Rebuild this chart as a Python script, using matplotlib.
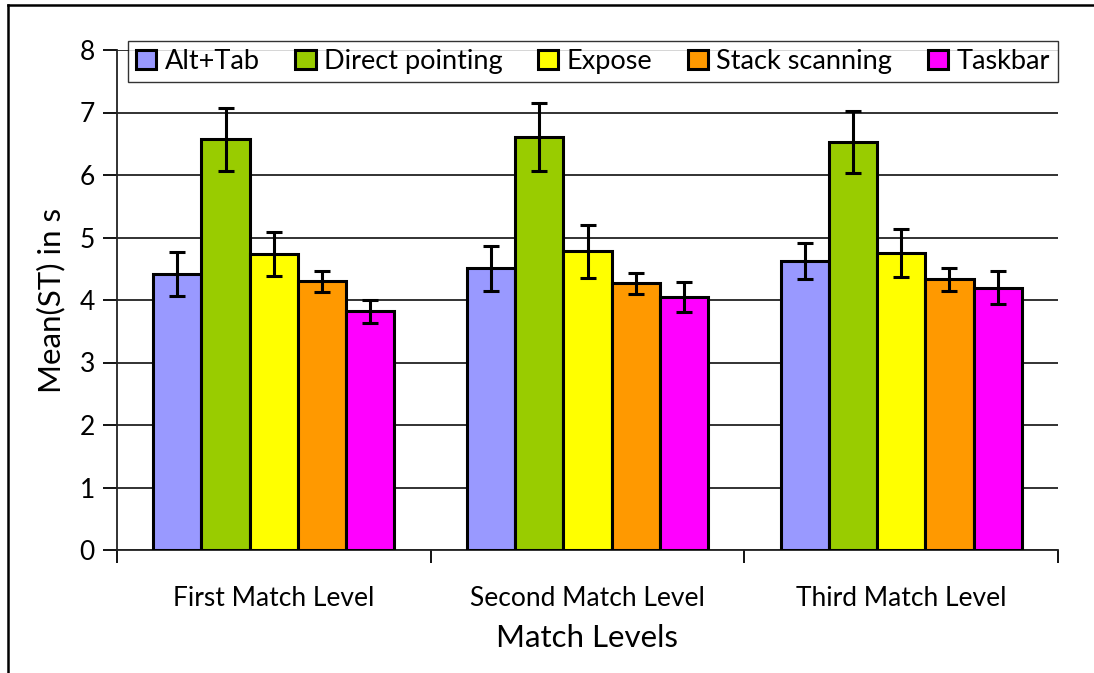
import numpy as np
import matplotlib
matplotlib.use("Agg")
import matplotlib.pyplot as plt
from matplotlib.lines import Line2D

plt.rcParams['font.family'] = ['Lato', 'DejaVu Sans']

# data
levels = ["First Match Level", "Second Match Level", "Third Match Level"]
techniques = ["Alt+Tab", "Direct pointing", "Expose", "Stack scanning", "Taskbar"]
colors = ["#9999FF", "#99CC00", "#FFFF00", "#FF9900", "#FF00FF"]

alt_tab = [4.42, 4.51, 4.63]
direct = [6.57, 6.61, 6.53]
expose = [4.74, 4.78, 4.75]
stack = [4.30, 4.27, 4.33]
taskbar = [3.82, 4.05, 4.20]

alt_tab_err = [0.35, 0.36, 0.29]
direct_err = [0.51, 0.55, 0.49]
expose_err = [0.35, 0.42, 0.38]
stack_err = [0.17, 0.17, 0.18]
taskbar_err = [0.18, 0.24, 0.26]

means = [alt_tab, direct, expose, stack, taskbar]
errs = [alt_tab_err, direct_err, expose_err, stack_err, taskbar_err]

fig = plt.figure(figsize=(10.94, 6.73), dpi=100)
ax = fig.add_axes([117/1094, 1-550/673, (1058-117)/1094, 500/673])

# Excel-style clustered bars: gap width 150%
n = len(techniques)
width = 1.0 / (n + 1.5)
x = np.arange(len(levels))
for i in range(n):
    pos = x + (i - (n - 1) / 2) * width
    ax.bar(pos, means[i], width, color=colors[i], edgecolor="black",
           linewidth=2.2, label=techniques[i], zorder=3)
    ax.errorbar(pos, means[i], yerr=errs[i], fmt="none", ecolor="black",
                elinewidth=2.2, capsize=5.5, capthick=2.2, zorder=4)

ax.set_xlim(-0.5, len(levels) - 0.5)
ax.set_ylim(0, 8)
ax.set_yticks(range(0, 9))
ax.yaxis.grid(True, color="#222222", linewidth=1.3, zorder=0)
ax.set_axisbelow(True)

ax.set_xticks(np.arange(-0.5, len(levels), 1.0))
ax.set_xticklabels([])
ax.set_xticks(x, minor=True)
ax.set_xticklabels(levels, minor=True, fontsize=19)
ax.tick_params(axis="x", which="major", direction="out", length=9, width=1.3)
ax.tick_params(axis="x", which="minor", length=0, pad=26)
ax.tick_params(axis="y", direction="out", length=10, width=1.3, labelsize=19, pad=6)

for s in ["top", "right"]:
    ax.spines[s].set_visible(False)
for s in ["left", "bottom"]:
    ax.spines[s].set_linewidth(1.3)
    ax.spines[s].set_color("#222222")

ax.set_xlabel("Match Levels", fontsize=22.5, labelpad=9)
ax.set_ylabel("Mean(ST) in s", fontsize=22.5, labelpad=10)

leg = fig.legend(loc="center", bbox_to_anchor=(128/1094, 1-82/673, 930/1094, 41/673),
                 mode="expand", ncol=5, fontsize=19.5, frameon=True, fancybox=False,
                 edgecolor="black", handlelength=0.75, handleheight=0.75,
                 handletextpad=0.3, columnspacing=0.8, borderpad=0.3,
                 borderaxespad=0)
leg.get_frame().set_linewidth(1.0)
for h in leg.legend_handles:
    h.set_linewidth(2.2)

# outer chart-area border (left and top edges visible)
fig.add_artist(Line2D([8/1094, 8/1094], [0, 1-5/673], color="black", linewidth=1.8))
fig.add_artist(Line2D([8/1094, 1], [1-5/673, 1-5/673], color="black", linewidth=1.8))

fig.savefig("out.png", dpi=100)
